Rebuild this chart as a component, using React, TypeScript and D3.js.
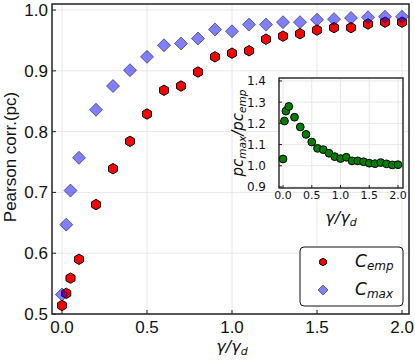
import React from "react";
import * as d3 from "d3";

// gamma / gamma_d sample points
const gamma = [0, 0.025, 0.05, 0.1, 0.2, 0.3, 0.4, 0.5, 0.6, 0.7, 0.8, 0.9, 1.0, 1.1, 1.2, 1.3, 1.4, 1.5, 1.6, 1.7, 1.8, 1.9, 2.0];
const pcEmp = [0.514, 0.534, 0.559, 0.59, 0.68, 0.739, 0.784, 0.829, 0.868, 0.875, 0.898, 0.923, 0.929, 0.933, 0.952, 0.957, 0.961, 0.967, 0.971, 0.971, 0.977, 0.98, 0.98];
const pcMax = [0.532, 0.647, 0.703, 0.757, 0.836, 0.875, 0.901, 0.923, 0.942, 0.945, 0.953, 0.968, 0.965, 0.976, 0.976, 0.98, 0.98, 0.984, 0.985, 0.987, 0.988, 0.989, 0.989];
const ratio = [1.032, 1.211, 1.258, 1.28, 1.229, 1.183, 1.148, 1.112, 1.082, 1.076, 1.059, 1.043, 1.034, 1.04, 1.023, 1.023, 1.019, 1.012, 1.01, 1.015, 1.009, 1.004, 1.005];

const xTicks = [0, 0.5, 1.0, 1.5, 2.0];
const yTicks = [0.5, 0.6, 0.7, 0.8, 0.9, 1.0];
const insetYTicks = [0.9, 1.0, 1.1, 1.2, 1.3, 1.4];

const W = 415;
const H = 363;

// hexagon with a vertex on top (matplotlib "h")
function hexagon(r: number) {
  const pts = d3.range(6).map((k) => {
    const a = (-90 + 60 * k) * (Math.PI / 180);
    return [r * Math.cos(a), r * Math.sin(a)] as [number, number];
  });
  return "M" + pts.map((p) => p.join(",")).join("L") + "Z";
}

function diamond(r: number) {
  return `M0,${-r}L${r},0L0,${r}L${-r},0Z`;
}

const mathFont = "DejaVu Sans";
const tickFont = "Liberation Sans, Arial, sans-serif";

export default function App() {
  // main axes
  const x = d3.scaleLinear().domain([-0.0588, 2.041]).range([52, 409]);
  const y = d3.scaleLinear().domain([0.5, 1.0099]).range([314, 4]);
  // inset axes
  const ix = d3.scaleLinear().domain([-0.07, 2.087]).range([279, 403]);
  const iy = d3.scaleLinear().domain([0.895, 1.414]).range([188, 78]);

  const grid = "#e8e8e8";
  const fmt = d3.format(".1f");

  return (
    <svg width={W} height={H} style={{ position: "absolute", left: 0, top: 0, background: "#fff" }}>
      {/* main grid */}
      {xTicks.map((t) => (
        <line key={"gx" + t} x1={x(t)} x2={x(t)} y1={y.range()[1]} y2={y.range()[0]} stroke={grid} strokeWidth={1} />
      ))}
      {yTicks.map((t) => (
        <line key={"gy" + t} x1={x.range()[0]} x2={x.range()[1]} y1={y(t)} y2={y(t)} stroke={grid} strokeWidth={1} />
      ))}

      {/* main ticks */}
      {xTicks.map((t) => (
        <g key={"tx" + t}>
          <line x1={x(t)} x2={x(t)} y1={314} y2={310} stroke="#222" strokeWidth={1} />
          <text x={x(t)} y={333} textAnchor="middle" fontFamily={tickFont} fontSize={17} fill="#111">
            {fmt(t)}
          </text>
        </g>
      ))}
      {yTicks.map((t) => (
        <g key={"ty" + t}>
          <line x1={52} x2={56} y1={y(t)} y2={y(t)} stroke="#222" strokeWidth={1} />
          <text x={48} y={y(t) + 6} textAnchor="end" fontFamily={tickFont} fontSize={17} fill="#111">
            {fmt(t)}
          </text>
        </g>
      ))}

      {/* C_emp */}
      {gamma.map((g, i) => (
        <path key={"e" + i} d={hexagon(5.2)} transform={`translate(${x(g)},${y(pcEmp[i])})`} fill="#ff0000" stroke="#000" strokeWidth={1} />
      ))}
      {/* C_max */}
      {gamma.map((g, i) => (
        <path
          key={"m" + i}
          d={diamond(6.5)}
          transform={`translate(${x(g)},${y(pcMax[i])})`}
          fill="#0000ff"
          fillOpacity={0.5}
          stroke="#000"
          strokeOpacity={0.5}
          strokeWidth={1}
        />
      ))}

      {/* main frame */}
      <rect x={52} y={4} width={357} height={310} fill="none" stroke="#222" strokeWidth={1.5} />

      {/* axis labels */}
      <text transform="translate(16,157) rotate(-90)" textAnchor="middle" fontFamily={tickFont} fontSize={17} fill="#111">
        Pearson corr.(pc)
      </text>
      <text x={232} y={352} textAnchor="middle" fontFamily={mathFont} fontStyle="italic" fontSize={16} fill="#111">
        γ/γ<tspan fontSize={11} dy={3}>d</tspan>
      </text>

      {/* inset */}
      <rect x={279} y={78} width={124} height={110} fill="#fff" />
      {xTicks.map((t) => (
        <line key={"igx" + t} x1={ix(t)} x2={ix(t)} y1={78} y2={188} stroke={grid} strokeWidth={1} />
      ))}
      {insetYTicks.map((t) => (
        <line key={"igy" + t} x1={279} x2={403} y1={iy(t)} y2={iy(t)} stroke={grid} strokeWidth={1} />
      ))}
      {xTicks.map((t) => (
        <g key={"itx" + t}>
          <line x1={ix(t)} x2={ix(t)} y1={188} y2={185} stroke="#222" strokeWidth={1} />
          <text x={ix(t)} y={199} textAnchor="middle" fontFamily={mathFont} fontSize={11} fill="#111">
            {fmt(t)}
          </text>
        </g>
      ))}
      {insetYTicks.map((t) => (
        <g key={"ity" + t}>
          <line x1={279} x2={282} y1={iy(t)} y2={iy(t)} stroke="#222" strokeWidth={1} />
          <text x={266} y={iy(t) + 4.5} textAnchor="end" fontFamily={mathFont} fontSize={12} fill="#111">
            {fmt(t)}
          </text>
        </g>
      ))}
      {gamma.map((g, i) => (
        <circle key={"r" + i} cx={ix(g)} cy={iy(ratio[i])} r={3.9} fill="#008000" stroke="#000" strokeWidth={1} />
      ))}
      <rect x={279} y={78} width={124} height={110} fill="none" stroke="#111" strokeWidth={1.3} />
      <text transform="translate(243,133) rotate(-90)" textAnchor="middle" fontFamily={mathFont} fontStyle="italic" fontSize={15} fill="#111">
        pc<tspan fontSize={10.5} dy={3}>max</tspan>
        <tspan dy={-3}>/pc</tspan>
        <tspan fontSize={10.5} dy={3}>emp</tspan>
      </text>
      <text x={341} y={223} textAnchor="middle" fontFamily={mathFont} fontStyle="italic" fontSize={16} fill="#111">
        γ/γ<tspan fontSize={11} dy={3}>d</tspan>
      </text>

      {/* legend */}
      <rect x={300} y={247} width={103} height={59} rx={4} fill="#fff" stroke="#111" strokeWidth={1} />
      <path d={hexagon(3.8)} transform="translate(323,262)" fill="#ff0000" stroke="#000" strokeWidth={1} />
      <path d={diamond(5)} transform="translate(323,290)" fill="#0000ff" fillOpacity={0.5} stroke="#000" strokeOpacity={0.5} strokeWidth={1} />
      <text x={355} y={267} fontFamily={mathFont} fontStyle="italic" fontSize={17} fill="#111">
        C<tspan fontSize={12} dy={3}>emp</tspan>
      </text>
      <text x={355} y={295} fontFamily={mathFont} fontStyle="italic" fontSize={17} fill="#111">
        C<tspan fontSize={12} dy={3}>max</tspan>
      </text>
    </svg>
  );
}
